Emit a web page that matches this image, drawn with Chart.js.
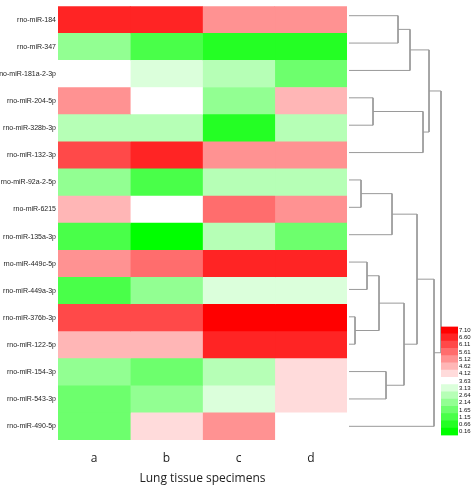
<!DOCTYPE html>
<html>
<head>
<meta charset="utf-8">
<script src="https://cdn.jsdelivr.net/npm/chart.js@4"></script>
<style>
  html, body { margin: 0; padding: 0; background: #fff; }
  #wrap { position: relative; width: 472px; height: 486px; overflow: hidden; }
  canvas { position: absolute; }
  #heat { left: 0; top: 0; }
  #tree { left: 340px; top: 0; }
  #scale { left: 441px; top: 322px; }
</style>
</head>
<body>
<div id="wrap">
  <canvas id="heat" width="350" height="486"></canvas>
  <canvas id="tree" width="110" height="486"></canvas>
  <canvas id="scale" width="31" height="118"></canvas>
</div>
<script>
// rows of the heatmap, top to bottom
const mirnas = [
  "rno-miR-184", "rno-miR-347", "rno-miR-181a-2-3p", "rno-miR-204-5p",
  "rno-miR-328b-3p", "rno-miR-132-3p", "rno-miR-92a-2-5p", "rno-miR-6215",
  "rno-miR-135a-3p", "rno-miR-449c-5p", "rno-miR-449a-3p", "rno-miR-376b-3p",
  "rno-miR-122-5p", "rno-miR-154-3p", "rno-miR-543-3p", "rno-miR-490-5p"
];
const specimens = ["a", "b", "c", "d"];

// expression values per specimen
const valsA = [6.60, 2.14, 3.63, 5.12, 2.64, 6.11, 2.14, 4.62, 1.15, 5.12, 1.15, 6.11, 4.62, 2.14, 1.65, 1.65];
const valsB = [6.60, 1.15, 3.13, 3.63, 2.64, 6.60, 1.15, 3.63, 0.16, 5.61, 2.14, 6.11, 4.62, 1.65, 2.14, 4.12];
const valsC = [5.12, 0.66, 2.64, 2.14, 0.66, 5.12, 2.64, 5.61, 2.64, 6.60, 3.13, 7.10, 6.60, 2.64, 3.13, 5.12];
const valsD = [5.12, 0.66, 1.65, 4.62, 2.64, 5.12, 2.64, 5.12, 1.65, 6.60, 3.13, 7.10, 6.60, 4.12, 4.12, 3.63];

// colour key labels, top to bottom
const keyTicks = ["7.10", "6.60", "6.11", "5.61", "5.12", "4.62", "4.12", "3.63", "3.13", "2.64", "2.14", "1.65", "1.15", "0.66", "0.16"];

// dendrogram merges: [child, child, height]; children >= 16 are earlier merges
const merges = [
  [0, 1, 49], [16, 2, 61], [3, 4, 24], [18, 5, 74], [17, 19, 80],
  [6, 7, 12], [21, 8, 43], [9, 10, 18], [11, 12, 6], [23, 24, 30],
  [13, 14, 37], [25, 26, 55], [22, 27, 68], [28, 15, 85], [20, 29, 92]
];

const vMin = 0.16, vMax = 7.10, nBins = 15;
function binColor(k) {
  if (k < 7) {
    const c = Math.round(255 * k / 7);
    return `rgb(${c},255,${c})`;
  }
  const c = Math.round(255 * (14 - k) / 7);
  return `rgb(255,${c},${c})`;
}
function valueColor(v) {
  let k = Math.round((v - vMin) / ((vMax - vMin) / (nBins - 1)));
  k = Math.max(0, Math.min(nBins - 1, k));
  return binColor(k);
}

const cols = [valsA, valsB, valsC, valsD];

new Chart(document.getElementById("heat"), {
  type: "bar",
  data: {
    labels: mirnas,
    datasets: cols.map((vals, i) => ({
      label: specimens[i],
      data: vals.map(() => 1),
      backgroundColor: vals.map(valueColor),
      borderWidth: 0,
      barPercentage: 1,
      categoryPercentage: 1
    }))
  },
  options: {
    indexAxis: "y",
    responsive: false,
    animation: false,
    layout: { padding: { top: 2, right: 3, left: 0, bottom: 0 } },
    scales: {
      x: {
        stacked: true,
        min: 0,
        max: 4,
        afterBuildTicks: axis => { axis.ticks = specimens.map((s, i) => ({ value: i + 0.5 })); },
        afterFit: axis => { axis.height = 46; },
        ticks: {
          callback: (value, index) => specimens[index],
          font: { family: "Open Sans", size: 12 },
          color: "#222",
          padding: 11,
          maxRotation: 0
        },
        grid: { display: false, drawTicks: false },
        border: { display: false },
        title: {
          display: true,
          text: "Lung tissue specimens",
          font: { family: "Open Sans", size: 12 },
          color: "#222",
          padding: { top: 0, bottom: 0 }
        }
      },
      y: {
        stacked: true,
        afterFit: axis => { axis.width = 58; },
        ticks: {
          font: { family: "Liberation Sans", size: 7 },
          color: "#222",
          padding: 2,
          autoSkip: false
        },
        grid: { display: false, drawTicks: false },
        border: { display: false }
      }
    },
    plugins: { legend: { display: false }, tooltip: { enabled: false } }
  }
});

// dendrogram polylines from the merge list
const nodeY = mirnas.map((m, i) => i);
const nodeH = mirnas.map(() => 0);
const treePts = [];
merges.forEach(([a, b, h]) => {
  treePts.push(
    { x: nodeH[a], y: nodeY[a] },
    { x: h, y: nodeY[a] },
    { x: h, y: nodeY[b] },
    { x: nodeH[b], y: nodeY[b] },
    { x: null, y: null }
  );
  nodeY.push((nodeY[a] + nodeY[b]) / 2);
  nodeH.push(h);
});

new Chart(document.getElementById("tree"), {
  type: "scatter",
  data: {
    datasets: [{
      data: treePts,
      showLine: true,
      spanGaps: false,
      borderColor: "#9a9a9a",
      borderWidth: 1,
      pointRadius: 0,
      clip: false
    }]
  },
  options: {
    responsive: false,
    animation: false,
    layout: { padding: { top: 2, bottom: 46, left: 9, right: 9 } },
    scales: {
      x: { type: "linear", min: 0, max: 92, display: false },
      y: { type: "linear", min: -0.5, max: 15.5, reverse: true, display: false }
    },
    plugins: { legend: { display: false }, tooltip: { enabled: false } }
  }
});

// colour key
new Chart(document.getElementById("scale"), {
  type: "bar",
  data: {
    labels: keyTicks,
    datasets: [{
      data: keyTicks.map(() => 1),
      backgroundColor: keyTicks.map((t, i) => binColor(nBins - 1 - i)),
      borderWidth: 0,
      barPercentage: 1,
      categoryPercentage: 1
    }]
  },
  options: {
    indexAxis: "y",
    responsive: false,
    animation: false,
    layout: { padding: 0 },
    scales: {
      x: { min: 0, max: 1, display: false },
      y: {
        position: "right",
        afterFit: axis => { axis.width = 14; },
        ticks: {
          font: { family: "Liberation Sans", size: 6 },
          color: "#111",
          padding: 1,
          autoSkip: false
        },
        grid: { display: false, drawTicks: false },
        border: { display: false }
      }
    },
    plugins: { legend: { display: false }, tooltip: { enabled: false } }
  }
});
</script>
</body>
</html>
